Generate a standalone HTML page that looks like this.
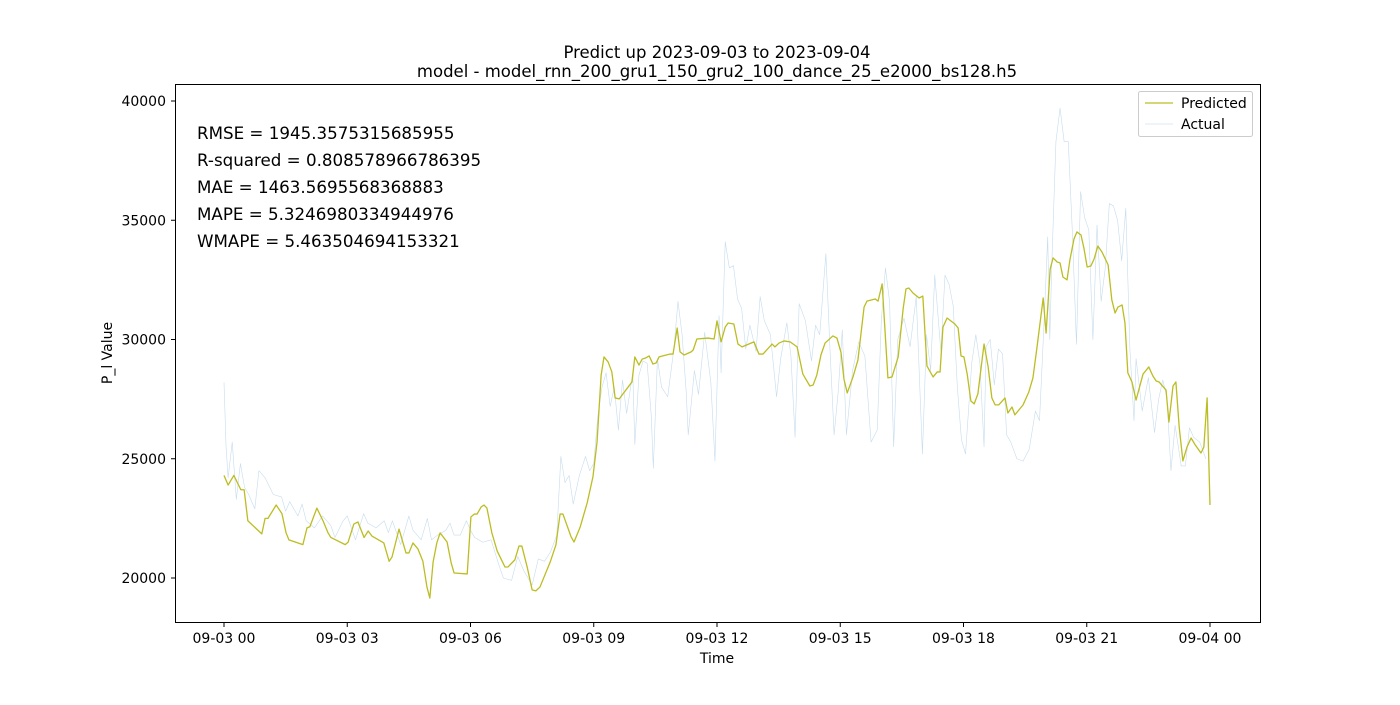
<!DOCTYPE html>
<html><head><meta charset="utf-8"><style>
body{margin:0;background:#fff;}
svg text{font-family:"DejaVu Sans","Liberation Sans",sans-serif;fill:#000;}
</style></head><body>
<svg id="chart" width="1400" height="700" viewBox="0 0 1400 700" xmlns="http://www.w3.org/2000/svg">
<rect width="1400" height="700" fill="#fff"/>
<text x="717" y="58" text-anchor="middle" font-size="16.5">Predict up 2023-09-03 to 2023-09-04</text>
<text x="717" y="77" text-anchor="middle" font-size="16.5">model - model_rnn_200_gru1_150_gru2_100_dance_25_e2000_bs128.h5</text>
<g id="plot"></g>
<rect x="175.5" y="84.5" width="1085" height="538" fill="none" stroke="#000" stroke-width="1"/>
<g font-size="16.7">
<text x="197" y="139">RMSE = 1945.3575315685955</text>
<text x="197" y="166">R-squared = 0.808578966786395</text>
<text x="197" y="193">MAE = 1463.5695568368883</text>
<text x="197" y="220">MAPE = 5.3246980334944976</text>
<text x="197" y="247">WMAPE = 5.463504694153321</text>
</g>
<g id="xaxis"></g>
<g id="yaxis"></g>
<text x="717" y="663" text-anchor="middle" font-size="14">Time</text>
<text transform="translate(112,353) rotate(-90)" text-anchor="middle" font-size="14">P_l Value</text>
<g>
<rect x="1138.5" y="91.5" width="114" height="45" rx="2" fill="#fff" fill-opacity="0.8" stroke="#ccc"/>
<line x1="1145" y1="103" x2="1173" y2="103" stroke="#bcbd22" stroke-width="1.3"/>
<text x="1181" y="108" font-size="14">Predicted</text>
<line x1="1145" y1="124" x2="1173" y2="124" stroke="#dde9f4" stroke-width="1"/>
<text x="1181" y="129" font-size="14">Actual</text>
</g>
</svg>
<script>
const xTickLabels=["09-03 00","09-03 03","09-03 06","09-03 09","09-03 12","09-03 15","09-03 18","09-03 21","09-04 00"];
const xTickHours=[0,3,6,9,12,15,18,21,24];
const yTicks=[20000,25000,30000,35000,40000];
const predHours=[0,0.10,0.24,0.41,0.49,0.58,0.92,1.00,1.07,1.27,1.41,1.51,1.58,1.92,2.02,2.09,2.26,2.41,2.53,2.60,2.95,3.02,3.16,3.26,3.41,3.51,3.60,3.89,4.02,4.09,4.26,4.43,4.50,4.60,4.72,4.84,4.94,5.01,5.09,5.18,5.26,5.43,5.53,5.60,5.92,6.01,6.09,6.16,6.26,6.33,6.40,6.52,6.65,6.84,6.91,7.08,7.18,7.25,7.38,7.50,7.59,7.69,7.94,8.08,8.18,8.25,8.45,8.52,8.67,8.84,8.98,9.08,9.18,9.25,9.35,9.44,9.52,9.62,9.93,10.00,10.10,10.18,10.27,10.35,10.44,10.52,10.59,10.86,10.93,11.03,11.10,11.20,11.37,11.42,11.51,11.78,11.93,12.00,12.10,12.20,12.27,12.41,12.51,12.61,12.90,13.02,13.12,13.34,13.41,13.51,13.63,13.78,13.95,14.09,14.26,14.34,14.43,14.53,14.63,14.82,14.92,15.02,15.09,15.17,15.31,15.43,15.58,15.65,15.85,15.92,16.02,16.16,16.26,16.41,16.53,16.60,16.67,16.77,16.92,17.01,17.11,17.26,17.36,17.43,17.50,17.60,17.79,17.87,17.94,18.01,18.09,18.18,18.26,18.35,18.50,18.60,18.69,18.77,18.86,19.01,19.08,19.18,19.25,19.45,19.59,19.69,19.79,19.94,20.01,20.11,20.18,20.28,20.35,20.42,20.52,20.59,20.69,20.76,20.86,20.93,21.01,21.10,21.18,21.27,21.37,21.52,21.61,21.69,21.76,21.86,21.93,22.00,22.10,22.20,22.37,22.51,22.61,22.69,22.76,22.93,23.00,23.10,23.17,23.25,23.34,23.44,23.54,23.64,23.78,23.85,23.93,24.00];
const predValues=[24300,23900,24300,23700,23700,22400,21850,22500,22500,23060,22700,21900,21600,21400,22100,22150,22930,22400,21900,21700,21400,21500,22260,22350,21700,21970,21760,21470,20700,20880,22050,21050,21050,21470,21220,20710,19620,19160,20670,21470,21890,21510,20630,20210,20170,22560,22680,22680,22980,23060,22930,21890,21130,20460,20460,20760,21340,21340,20460,19500,19460,19620,20670,21390,22680,22680,21720,21510,22140,23150,24240,25700,28510,29270,29060,28640,27550,27510,28220,29270,28930,29180,29230,29310,28970,29020,29270,29390,29390,30480,29480,29350,29480,29560,30020,30060,30020,30780,29900,30520,30690,30650,29810,29690,29900,29390,29390,29810,29690,29850,29940,29900,29690,28550,28050,28090,28510,29350,29850,30150,30060,29440,28340,27760,28430,29140,31360,31610,31700,31610,32330,28390,28430,29270,31280,32120,32160,31950,31740,31820,28890,28430,28640,28640,30520,30900,30650,30480,29310,29270,28550,27420,27300,27720,29810,28850,27550,27260,27260,27550,26920,27170,26840,27260,27800,28390,29690,31740,30270,32960,33420,33250,33210,32620,32500,33340,34220,34510,34380,33840,33040,33080,33380,33920,33670,33130,31660,31110,31360,31450,30690,28600,28220,27460,28550,28850,28470,28260,28220,27880,26540,28050,28220,26330,24910,25490,25870,25580,25240,25490,27550,23060];
const actHours=[0,0.05,0.1,0.2,0.3,0.4,0.5,0.6,0.75,0.85,1.0,1.2,1.4,1.5,1.6,1.8,1.9,2.0,2.2,2.4,2.6,2.7,2.9,3.0,3.2,3.4,3.5,3.7,3.9,4.0,4.1,4.3,4.5,4.6,4.8,4.95,5.05,5.2,5.4,5.5,5.6,5.75,5.9,6.0,6.1,6.3,6.5,6.7,6.8,7.0,7.15,7.3,7.5,7.65,7.8,7.95,8.1,8.2,8.3,8.4,8.5,8.65,8.8,8.9,9.0,9.1,9.2,9.3,9.4,9.5,9.6,9.7,9.8,9.95,10.0,10.1,10.2,10.3,10.4,10.45,10.55,10.65,10.8,10.95,11.05,11.15,11.25,11.3,11.45,11.55,11.7,11.85,11.95,12.05,12.1,12.2,12.3,12.4,12.5,12.6,12.7,12.8,12.95,13.05,13.15,13.3,13.45,13.55,13.7,13.8,13.9,14.0,14.15,14.3,14.4,14.5,14.65,14.75,14.85,14.95,15.05,15.15,15.3,15.45,15.6,15.75,15.9,16.0,16.1,16.2,16.3,16.4,16.55,16.7,16.85,17.0,17.1,17.2,17.3,17.45,17.55,17.65,17.75,17.85,17.95,18.05,18.2,18.3,18.4,18.5,18.55,18.65,18.75,18.85,18.95,19.05,19.15,19.3,19.45,19.6,19.75,19.85,19.95,20.05,20.1,20.15,20.25,20.35,20.45,20.55,20.65,20.75,20.85,20.95,21.05,21.15,21.25,21.35,21.45,21.55,21.65,21.75,21.85,21.95,22.05,22.15,22.2,22.35,22.5,22.65,22.75,22.85,22.95,23.05,23.15,23.3,23.4,23.5,23.6,23.75,23.9];
const actValues=[28200,25500,24200,25700,23300,24800,23800,23500,22900,24500,24200,23500,23400,22800,23200,22600,23100,22400,22100,22600,22200,21700,22400,22600,21600,22700,22300,22100,22400,21900,22400,21400,22600,22000,21600,22500,21600,21800,22000,22300,21800,21800,22400,22000,21700,21500,21600,20500,20000,19900,20900,20300,19700,20800,20700,21100,21800,25100,24000,24300,23100,24300,25100,24500,24800,26800,28000,28600,27200,28000,26200,28300,26900,28600,25600,28500,29100,29000,26800,24600,29200,28000,27600,29600,31600,30200,27800,26000,28700,27700,30300,28200,24900,31000,28600,34100,33000,33100,31700,31300,29600,30600,29500,31800,30800,30200,27600,29200,30700,29300,25900,31500,30800,29100,30600,30200,33600,29600,26000,27800,30400,26000,28700,29900,29300,25700,26200,30800,33000,31600,25500,30000,30900,29700,31800,25200,30200,28700,32700,29500,32700,32300,31400,28000,25800,25200,29000,30200,29000,25500,29700,30000,28100,29600,29400,26000,25700,25000,24900,25400,27000,26600,30300,34300,30000,33200,38300,39700,38300,38300,34500,29800,36200,35100,34600,30000,34800,31600,33000,35700,35600,35000,33300,35500,29600,26600,29200,27000,28400,26100,27500,28300,27600,24500,26400,24700,24700,26300,25900,25700,25000];

const NS="http://www.w3.org/2000/svg";
const X0=224,PXH=(1210-224)/24;
const Y0=578,PXV=(578-101)/20000;
function xScale(h){return X0+h*PXH;}
function yScale(v){return Y0-(v-20000)*PXV;}

const plot=document.getElementById('plot');
function line(hours,vals,color,w,name){
  const p=document.createElementNS(NS,'path');
  let d='';
  for(let i=0;i<hours.length;i++){d+=(i?'L':'M')+xScale(hours[i]).toFixed(2)+' '+yScale(vals[i]).toFixed(2);}
  p.setAttribute('d',d);p.setAttribute('fill','none');p.setAttribute('stroke',color);
  p.setAttribute('stroke-width',w);p.setAttribute('stroke-linejoin','round');
  
  
  plot.appendChild(p);
}
line(actHours,actValues,'#c6dcee',0.6,'actual-line');
line(predHours,predValues,'#bcbd22',1.3,'predicted-line');

const xa=document.getElementById('xaxis');
xTickHours.forEach((h,i)=>{
  const x=xScale(h);
  const t=document.createElementNS(NS,'line');
  t.setAttribute('x1',x);t.setAttribute('x2',x);t.setAttribute('y1',622.5);t.setAttribute('y2',627);t.setAttribute('stroke','#000');
  
  
  xa.appendChild(t);
  const l=document.createElementNS(NS,'text');
  l.setAttribute('x',x);l.setAttribute('y',643);l.setAttribute('text-anchor','middle');l.setAttribute('font-size','14');
  l.textContent=xTickLabels[i];
  
  
  xa.appendChild(l);
});
const ya=document.getElementById('yaxis');
yTicks.forEach(v=>{
  const y=yScale(v);
  const t=document.createElementNS(NS,'line');
  t.setAttribute('x1',171);t.setAttribute('x2',175.5);t.setAttribute('y1',y);t.setAttribute('y2',y);t.setAttribute('stroke','#000');
  
  
  ya.appendChild(t);
  const l=document.createElementNS(NS,'text');
  l.setAttribute('x',166);l.setAttribute('y',y+5);l.setAttribute('text-anchor','end');l.setAttribute('font-size','14');
  l.textContent=String(v);
  
  
  ya.appendChild(l);
});
</script>
</body></html>
